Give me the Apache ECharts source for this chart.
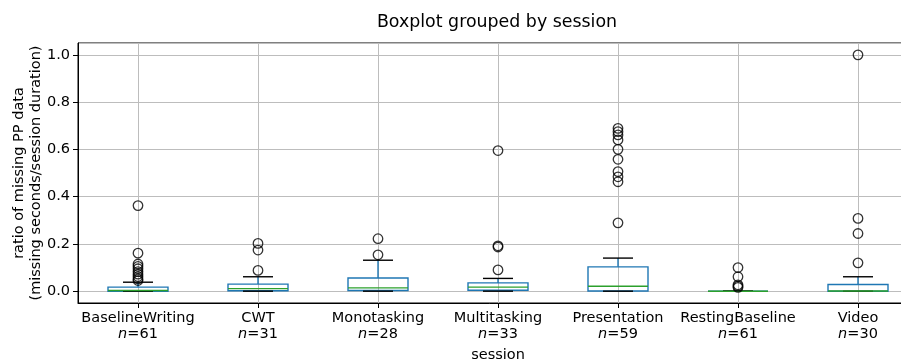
<!DOCTYPE html>
<html>
<head>
<meta charset="utf-8">
<script src="https://cdn.jsdelivr.net/npm/echarts@6/dist/echarts.min.js"></script>
<style>
  html, body { margin: 0; padding: 0; background: #fff; }
  #chart { width: 901px; height: 360px; }
</style>
</head>
<body>
<div id="chart"></div>
<script>
// Sessions and their sample counts
const categories = ['BaselineWriting', 'CWT', 'Monotasking', 'Multitasking', 'Presentation', 'RestingBaseline', 'Video'];
const counts = [61, 31, 28, 33, 59, 61, 30];

// Box statistics per session (ratio of missing PP data)
const whiskerLow  = [0.000, 0.000, 0.000, 0.000, 0.000, 0.000, 0.000];
const q1          = [0.000, 0.002, 0.003, 0.004, 0.001, 0.000, 0.000];
const median      = [0.003, 0.011, 0.014, 0.017, 0.021, 0.000, 0.001];
const q3          = [0.017, 0.030, 0.056, 0.035, 0.103, 0.000, 0.028];
const whiskerHigh = [0.038, 0.061, 0.131, 0.054, 0.140, 0.000, 0.061];

// Outliers beyond the whiskers
const outliersBaselineWriting = [0.362, 0.161, 0.115, 0.105, 0.095, 0.083, 0.072, 0.062, 0.052, 0.045];
const outliersCWT = [0.202, 0.174, 0.088];
const outliersMonotasking = [0.222, 0.154];
const outliersMultitasking = [0.595, 0.192, 0.187, 0.090];
const outliersPresentation = [0.689, 0.675, 0.661, 0.640, 0.600, 0.558, 0.506, 0.484, 0.463, 0.289];
const outliersRestingBaseline = [0.100, 0.061, 0.027, 0.021, 0.016];
const outliersVideo = [1.000, 0.308, 0.244, 0.120];

const outlierLists = [outliersBaselineWriting, outliersCWT, outliersMonotasking, outliersMultitasking,
                      outliersPresentation, outliersRestingBaseline, outliersVideo];

const yTitle = 'ratio of missing PP data\n(missing seconds/session duration)';

const FONT = 'DejaVu Sans';
const FS = 14.5;
const BLUE = '#1f77b4';
const GREEN = '#2ca02c';
const LW = 1.4;

const boxData = categories.map((c, i) => [i, whiskerLow[i], q1[i], median[i], q3[i], whiskerHigh[i]]);
const flierData = [];
outlierLists.forEach((list, i) => list.forEach(v => flierData.push([i, v])));

function renderBox(params, api) {
  const idx = api.value(0);
  const band = api.size([1, 0])[0];
  const halfBox = band * 0.25;
  const halfCap = band * 0.125;
  const pLow = api.coord([idx, api.value(1)]);
  const pQ1 = api.coord([idx, api.value(2)]);
  const pMed = api.coord([idx, api.value(3)]);
  const pQ3 = api.coord([idx, api.value(4)]);
  const pHigh = api.coord([idx, api.value(5)]);
  const x = pQ1[0];
  const line = (x1, y1, x2, y2, color) => ({
    type: 'line',
    shape: { x1, y1, x2, y2 },
    style: { stroke: color, lineWidth: LW, fill: null }
  });
  return {
    type: 'group',
    children: [
      line(x, pQ1[1], x, pLow[1], BLUE),
      line(x, pQ3[1], x, pHigh[1], BLUE),
      {
        type: 'rect',
        shape: { x: x - halfBox, y: pQ3[1], width: halfBox * 2, height: pQ1[1] - pQ3[1] },
        style: { stroke: BLUE, lineWidth: LW, fill: null }
      },
      line(x - halfCap, pLow[1], x + halfCap, pLow[1], '#000'),
      line(x - halfCap, pHigh[1], x + halfCap, pHigh[1], '#000'),
      line(x - halfBox, pMed[1], x + halfBox, pMed[1], GREEN)
    ]
  };
}

const chart = echarts.init(document.getElementById('chart'), null, { renderer: 'canvas' });

chart.setOption({
  animation: false,
  backgroundColor: '#fff',
  textStyle: { fontFamily: FONT },
  graphic: [
    {
      type: 'text',
      x: 497, y: 22,
      style: {
        text: 'Boxplot grouped by session',
        fontFamily: FONT, fontSize: 17.4, fill: '#000',
        textAlign: 'center', textVerticalAlign: 'middle'
      }
    },
    {
      type: 'text',
      x: 28, y: 173,
      rotation: Math.PI / 2,
      style: {
        text: yTitle,
        fontFamily: FONT, fontSize: FS, fill: '#000', lineHeight: 17,
        textAlign: 'center', textVerticalAlign: 'middle'
      }
    }
  ],
  grid: {
    left: 78, right: -17, top: 43, bottom: 57,
    outerBoundsMode: 'none',
    containLabel: false,
    show: true, borderColor: '#000', borderWidth: 1, backgroundColor: 'transparent'
  },
  xAxis: {
    type: 'category',
    data: categories,
    boundaryGap: true,
    name: 'session',
    nameLocation: 'middle',
    nameGap: 45,
    nameTextStyle: { fontFamily: FONT, fontSize: FS, color: '#000' },
    axisLine: { show: true, onZero: false, lineStyle: { color: '#000', width: 1 } },
    axisTick: { show: true, alignWithLabel: true, length: 5, lineStyle: { color: '#000', width: 1 } },
    splitLine: { show: true, alignWithLabel: true, lineStyle: { color: '#bdbdbd', width: 1 } },
    axisLabel: {
      margin: 7,
      interval: 0,
      color: '#000',
      fontFamily: FONT,
      fontSize: FS,
      lineHeight: 16,
      formatter: (v, i) => '{t|' + v + '}\n{i|n}{t|=' + counts[i] + '}',
      rich: {
        t: { fontFamily: FONT, fontSize: FS, color: '#000', lineHeight: 16 },
        i: { fontFamily: FONT, fontSize: FS, fontStyle: 'italic', color: '#000', lineHeight: 16 }
      }
    }
  },
  yAxis: {
    type: 'value',
    min: -0.05,
    max: 1.05,
    splitNumber: 5,
    axisLine: { show: true, lineStyle: { color: '#000', width: 1 } },
    axisTick: { show: true, length: 5, lineStyle: { color: '#000', width: 1 } },
    splitLine: { show: true, lineStyle: { color: '#bdbdbd', width: 1 } },
    axisLabel: {
      margin: 8,
      color: '#000',
      fontFamily: FONT,
      fontSize: FS,
      showMinLabel: false,
      showMaxLabel: false,
      formatter: v => v.toFixed(1)
    }
  },
  series: [
    {
      type: 'custom',
      renderItem: renderBox,
      data: boxData,
      encode: { x: 0, y: [1, 2, 3, 4, 5] },
      z: 3
    },
    {
      type: 'scatter',
      data: flierData,
      symbol: 'circle',
      symbolSize: 9.5,
      itemStyle: { color: 'rgba(0,0,0,0)', borderColor: '#000', borderWidth: 1.3 },
      z: 4
    }
  ]
});
</script>
</body>
</html>
